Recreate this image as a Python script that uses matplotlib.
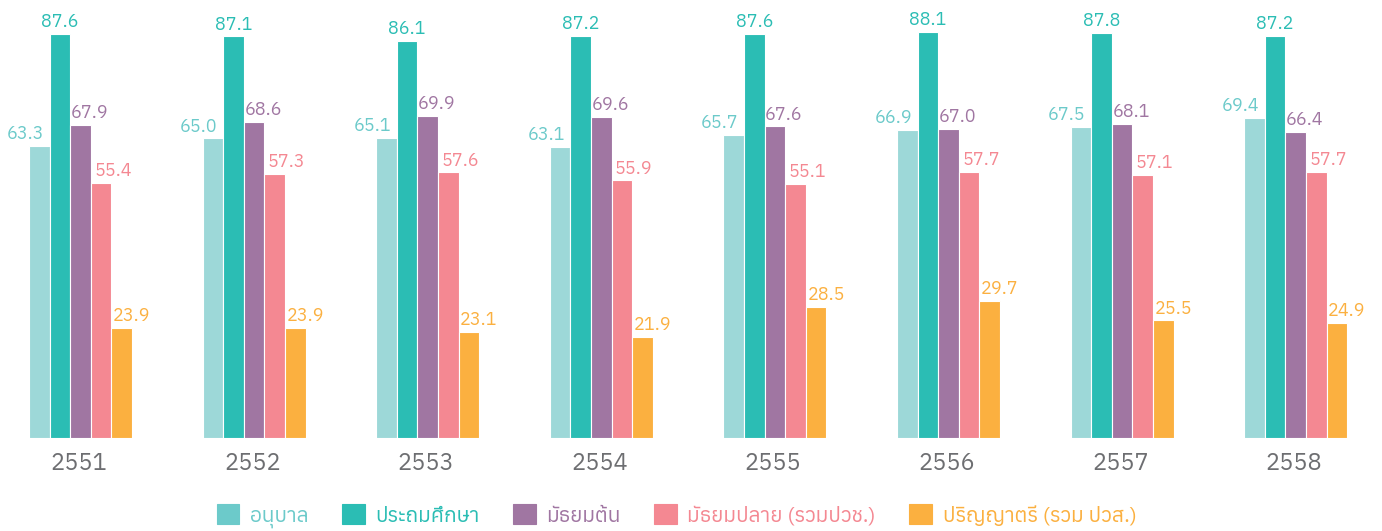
import matplotlib
matplotlib.use("Agg")
import matplotlib.pyplot as plt
import numpy as np

plt.rcParams['font.family'] = ['Anuphan', 'DejaVu Sans']

# --- data ---
years = ['2551', '2552', '2553', '2554', '2555', '2556', '2557', '2558']
series_names = ['อนุบาล', 'ประถมศึกษา', 'มัธยมต้น', 'มัธยมปลาย (รวมปวช.)', 'ปริญญาตรี (รวม ปวส.)']
anuban = [63.3, 65.0, 65.1, 63.1, 65.7, 66.9, 67.5, 69.4]
prathom = [87.6, 87.1, 86.1, 87.2, 87.6, 88.1, 87.8, 87.2]
mathayom_ton = [67.9, 68.6, 69.9, 69.6, 67.6, 67.0, 68.1, 66.4]
mathayom_plai = [55.4, 57.3, 57.6, 55.9, 55.1, 57.7, 57.1, 57.7]
parinya_tri = [23.9, 23.9, 23.1, 21.9, 28.5, 29.7, 25.5, 24.9]

series = [anuban, prathom, mathayom_ton, mathayom_plai, parinya_tri]
bar_colors = ['#9dd8d8', '#2bbdb4', '#a076a2', '#f48892', '#fbb040']
text_colors = ['#6ccaca', '#2bbdb4', '#a076a2', '#f48892', '#fbb040']
label_dx = [-14, 0, 9, 12, 10]   # label shift (px) as in the original

fig = plt.figure(figsize=(13.82, 5.31), dpi=100)
ax = fig.add_axes([0.0, 0.1751, 1.0, 0.8249])

x = np.arange(len(years))
w = 0.1187
handles = []
for k, (vals, bc, tc) in enumerate(zip(series, bar_colors, text_colors)):
    pos = x + (k - 2) * w
    b = ax.bar(pos, vals, width=w, color=bc, edgecolor='white', linewidth=0.8)
    handles.append(b)
    for xi, v in zip(pos, vals):
        ax.annotate(f'{v:.1f}', (xi, v), xytext=(label_dx[k] * 0.72, 2),
                    textcoords='offset points', ha='center', va='bottom',
                    fontsize=13, color=tc)

ax.set_xlim(-0.4637, 7.497)
ax.set_ylim(0, 95)
ax.axis('off')

for xi, yr in zip(x, years):
    ax.text(xi - 0.01, -3, yr, ha='center', va='top', fontsize=17,
            color='#6d6e71', fontweight='medium')

leg = fig.legend(handles, series_names, loc='center', bbox_to_anchor=(0.4895, 0.028),
                 ncol=5, frameon=False, fontsize=15, handlelength=1.1,
                 handleheight=1.1, handletextpad=0.5, columnspacing=1.6)
for t, c in zip(leg.get_texts(), text_colors):
    t.set_color(c)
for h, c in zip(leg.legend_handles, text_colors):
    h.set_facecolor(c)
    h.set_edgecolor(c)

fig.savefig('out.png', dpi=100)
